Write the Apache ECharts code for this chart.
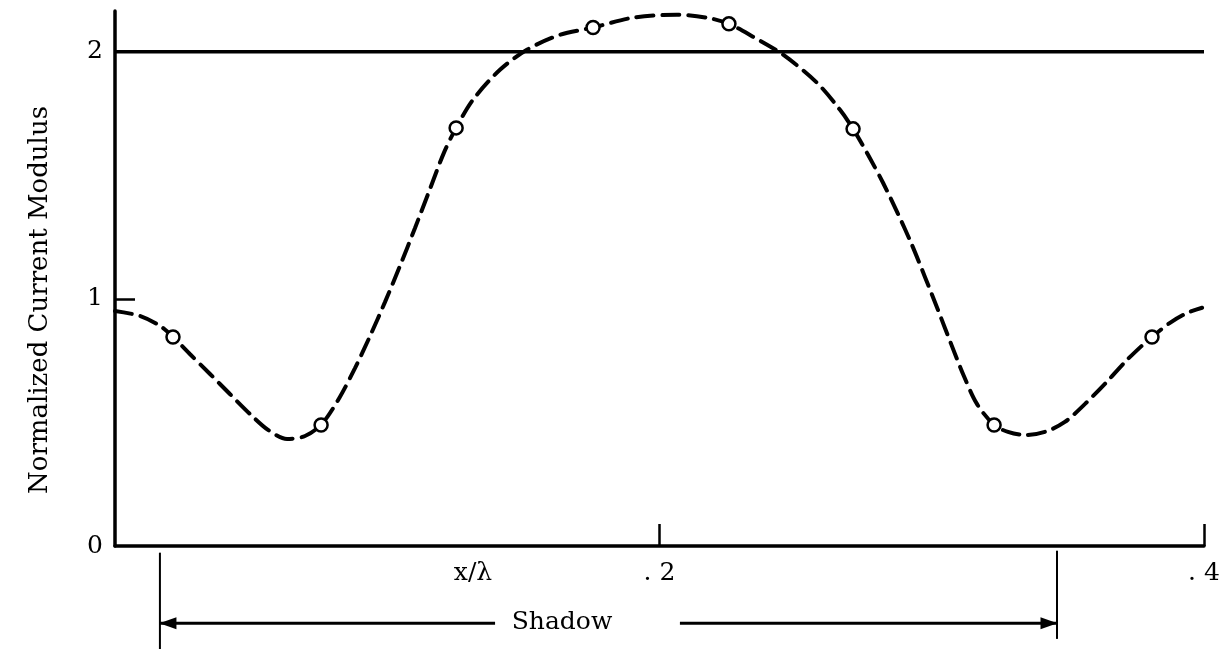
<!DOCTYPE html>
<html><head><meta charset="utf-8">
<script src="https://cdn.jsdelivr.net/npm/echarts@6/dist/echarts.min.js"></script>
<style>html,body{margin:0;padding:0;background:#fff}#c{width:1231px;height:649px}</style>
</head><body><div id="c"></div>
<script>
// Dashed curve (x/lambda, normalized current modulus)
const curveX = [0.000, 0.0092, 0.0165, 0.0213, 0.0275, 0.0349, 0.0422, 0.0496, 0.0562, 0.0632, 0.0698, 0.0760,
  0.0826, 0.0882, 0.0937, 0.0992, 0.1047, 0.1102, 0.1157, 0.1208, 0.1253, 0.1315, 0.1414, 0.1513, 0.1635, 0.1756,
  0.1903, 0.2064, 0.2174, 0.2255, 0.2343, 0.2454, 0.2579, 0.2663, 0.2711,
  0.2766, 0.2821, 0.2876, 0.2927, 0.2975, 0.3023, 0.3071, 0.3118, 0.3166, 0.3229,
  0.3280, 0.3343, 0.3416, 0.3489, 0.3563, 0.3636, 0.3710, 0.3783, 0.3809, 0.3875, 0.3938, 0.3993];
const curveY = [0.951, 0.931, 0.891, 0.846, 0.777, 0.696, 0.615, 0.534, 0.470, 0.433, 0.445, 0.494,
  0.603, 0.721, 0.850, 0.988, 1.134, 1.287, 1.445, 1.591, 1.692, 1.806, 1.927, 2.008, 2.069, 2.098,
  2.138, 2.150, 2.138, 2.113, 2.061, 1.988, 1.874, 1.765, 1.688,
  1.583, 1.470, 1.344, 1.219, 1.089, 0.955, 0.818, 0.688, 0.575, 0.490,
  0.462, 0.449, 0.462, 0.502, 0.575, 0.656, 0.745, 0.822, 0.846, 0.903, 0.943, 0.964];
// Open-circle points
const circleX = [0.0213, 0.0757, 0.1253, 0.1756, 0.2255, 0.2711, 0.3229, 0.3809];
const circleY = [0.846, 0.490, 1.692, 2.098, 2.113, 1.688, 0.490, 0.846];
// Reference level line
const referenceLevel = 2;
// Shadow region (drawn below the axis)
const shadowStart = 0.0165;
const shadowEnd = 0.346;
const shadowArrowLevel = -0.313;
const shadowArrowLeftFrom = 0.1396;
const shadowArrowRightFrom = 0.2075;
// Axes
const xMin = 0, xMax = 0.4;
const yMin = 0, yMax = 2.165;
const xTicks = [0.2, 0.4];
const xTickLabels = ['. 2', '. 4'];
const yLabelValues = [0, 1, 2];
const yTickValues = [1];

const FONT = 'DejaVu Serif';
const chart = echarts.init(document.getElementById('c'), null, {renderer: 'canvas'});
const zip = (xs, ys) => xs.map((x, i) => [x, ys[i]]);

chart.setOption({
  animation: false,
  backgroundColor: '#fff',
  grid: {left: 115, right: 27, top: 11, bottom: 103, containLabel: false, outerBoundsMode: 'none'},
  xAxis: {
    type: 'value', min: xMin, max: xMax,
    splitLine: {show: false},
    axisLine: {show: true, onZero: false, lineStyle: {color: '#000', width: 3.5}},
    axisTick: {show: true, inside: true, length: 22, customValues: xTicks, lineStyle: {color: '#000', width: 2.5}},
    axisLabel: {
      customValues: xTicks, margin: 15, color: '#000', fontFamily: FONT, fontSize: 25,
      formatter: v => {
        let best = 0;
        xTicks.forEach((t, i) => { if (Math.abs(t - v) < Math.abs(xTicks[best] - v)) best = i; });
        return xTickLabels[best];
      }
    }
  },
  yAxis: {
    type: 'value', min: yMin, max: yMax,
    splitLine: {show: false},
    axisLine: {show: true, lineStyle: {color: '#000', width: 3.5}},
    axisTick: {show: true, inside: true, length: 20, customValues: yTickValues, lineStyle: {color: '#000', width: 2.5}},
    axisLabel: {customValues: yLabelValues, margin: 12, color: '#000', fontFamily: FONT, fontSize: 25, formatter: v => String(Math.round(v))}
  },
  graphic: [
    {type: 'text', x: 40, y: 300, rotation: Math.PI / 2,
     style: {text: 'Normalized Current Modulus', fill: '#000', font: '26px "' + FONT + '"', align: 'center', verticalAlign: 'middle'}},
    {type: 'text', x: 473, y: 573, style: {text: 'x/λ', fill: '#000', font: '25px "' + FONT + '"', align: 'center', verticalAlign: 'middle'}},
    {type: 'text', x: 562, y: 622, style: {text: 'Shadow', fill: '#000', font: '25px "' + FONT + '"', align: 'center', verticalAlign: 'middle'}}
  ],
  series: [
    {
      name: 'reference', type: 'line', clip: false, silent: true, symbol: 'none',
      data: [[xMin, referenceLevel], [xMax, referenceLevel]], lineStyle: {color: '#000', width: 3.3}
    },
    {
      name: 'curve', type: 'line', silent: true, symbol: 'none', smooth: 0.3, clip: false,
      data: zip(curveX, curveY), lineStyle: {color: '#000', width: 4, type: [17, 9], cap: 'round'}
    },
    {
      name: 'shadowLeft', type: 'line', clip: false, silent: true, symbol: 'none',
      data: [[shadowStart, -0.027], [shadowStart, -0.42]], lineStyle: {color: '#000', width: 2}
    },
    {
      name: 'shadowRight', type: 'line', clip: false, silent: true, symbol: 'none',
      data: [[shadowEnd, -0.019], [shadowEnd, -0.376]], lineStyle: {color: '#000', width: 2}
    },
    {
      name: 'arrowLeft', type: 'line', clip: false, silent: true, showSymbol: true,
      itemStyle: {color: '#000'}, lineStyle: {color: '#000', width: 3},
      data: [
        {value: [shadowArrowLeftFrom, shadowArrowLevel], symbol: 'none'},
        {value: [shadowStart, shadowArrowLevel], symbol: 'triangle', symbolSize: [12, 17], symbolRotate: 90, symbolOffset: [8, 0]}
      ]
    },
    {
      name: 'arrowRight', type: 'line', clip: false, silent: true, showSymbol: true,
      itemStyle: {color: '#000'}, lineStyle: {color: '#000', width: 3},
      data: [
        {value: [shadowArrowRightFrom, shadowArrowLevel], symbol: 'none'},
        {value: [shadowEnd, shadowArrowLevel], symbol: 'triangle', symbolSize: [12, 17], symbolRotate: -90, symbolOffset: [-8, 0]}
      ]
    },
    {
      name: 'circles', type: 'scatter', silent: true, z: 5, symbol: 'circle', symbolSize: 13,
      data: zip(circleX, circleY),
      itemStyle: {color: '#fff', borderColor: '#000', borderWidth: 2.5, opacity: 1}
    }
  ]
});
</script>
</body></html>
